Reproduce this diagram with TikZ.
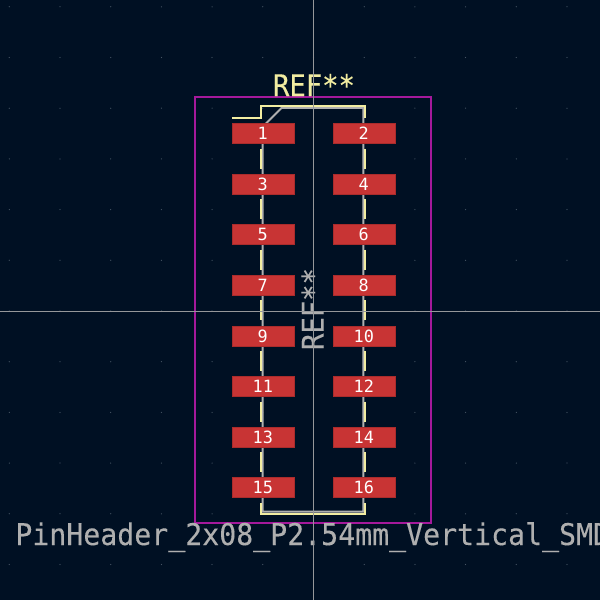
\documentclass[tikz,border=0pt]{standalone}
\usepackage{fontspec}
\usepackage{xcolor}
\newfontfamily\silkfont[FakeStretch=0.91,FakeBold=0.25]{DejaVu Sans Mono}
\newfontfamily\namefont[FakeStretch=0.945,FakeBold=0.25]{DejaVu Sans Mono}
\newfontfamily\padfont{DejaVu Sans Mono}
\definecolor{boardbg}{RGB}{0, 16, 35}
\definecolor{padred}{RGB}{200, 52, 52}
\definecolor{silkyellow}{RGB}{242, 237, 161}
\definecolor{fabgray}{RGB}{175, 175, 175}
\definecolor{crtyd}{RGB}{165, 25, 155}
\definecolor{griddot}{RGB}{70, 85, 100}
\usetikzlibrary{calc}

\begin{document}
\begin{tikzpicture}[
    x=0.02cm, y=-0.02cm,
    pad/.style={fill=padred, draw=padred!85!black, line width=0.3pt, minimum width=1.24cm, minimum height=0.40cm,
        inner sep=0pt, text=white, font=\padfont\fontsize{9.6}{10}\selectfont},
    silk/.style={draw=silkyellow, line width=1.3pt},
    fab/.style={draw=fabgray, line width=1.1pt},
    reftext/.style={inner sep=0pt, font=\silkfont\fontsize{17}{18}\selectfont}
]
\clip (0,0) rectangle (600,600);
\fill[boardbg] (0,0) rectangle (600,600);

% ==================== GRID ====================
\foreach \i in {0,...,11} {
    \foreach \j in {0,...,11} {
        \fill[griddot] ({9.3+50.7*\i},{6.8+50.7*\j}) circle (0.35pt);
    }
}

% ==================== COURTYARD AND FAB ====================
\draw[crtyd, line width=0.9pt] (195.1,97) rectangle (431,523.1);
\draw[fab] (281.5,108) -- (363.4,108) -- (363.4,511.7) -- (262.6,511.7) -- (262.6,127) -- cycle;

% ==================== SILKSCREEN ====================
\draw[silk] (232,118) -- (260.8,118) -- (260.8,106.3) -- (365,106.3) -- (365,118);
\draw[silk] (260.8,503) -- (260.8,514) -- (365,514) -- (365,503);
\foreach \row in {0,...,6} {
    \draw[silk] (260.8,{148.5+50.6*\row}) -- (260.8,{168.5+50.6*\row});
    \draw[silk] (365,{148.5+50.6*\row}) -- (365,{168.5+50.6*\row});
}

% ==================== PADS ====================
\foreach \row [evaluate=\row as \odd using int(2*\row+1), evaluate=\row as \even using int(2*\row+2)] in {0,...,7} {
    \node[pad] (pad\odd) at (262.8,{133.5+50.6*\row}) {\odd};
    \node[pad] (pad\even) at (363.8,{133.5+50.6*\row}) {\even};
}

% ==================== TEXTS ====================
\node[reftext, text=silkyellow] (ref_top) at (314,85) {REF**};
\node[reftext, text=fabgray, rotate=90] (ref_fab) at (312.5,309) {REF**};
\node[reftext, text=fabgray, font=\namefont\fontsize{17}{18}\selectfont, anchor=base west] (fp_name) at (15,545) {PinHeader\_2x08\_P2.54mm\_Vertical\_SMD};

% ==================== CROSSHAIR ====================
\draw[fabgray!85!boardbg, line width=0.5pt] (313.5,0) -- (313.5,600);
\draw[fabgray!85!boardbg, line width=0.5pt] (0,311) -- (600,311);
\end{tikzpicture}
\end{document}
